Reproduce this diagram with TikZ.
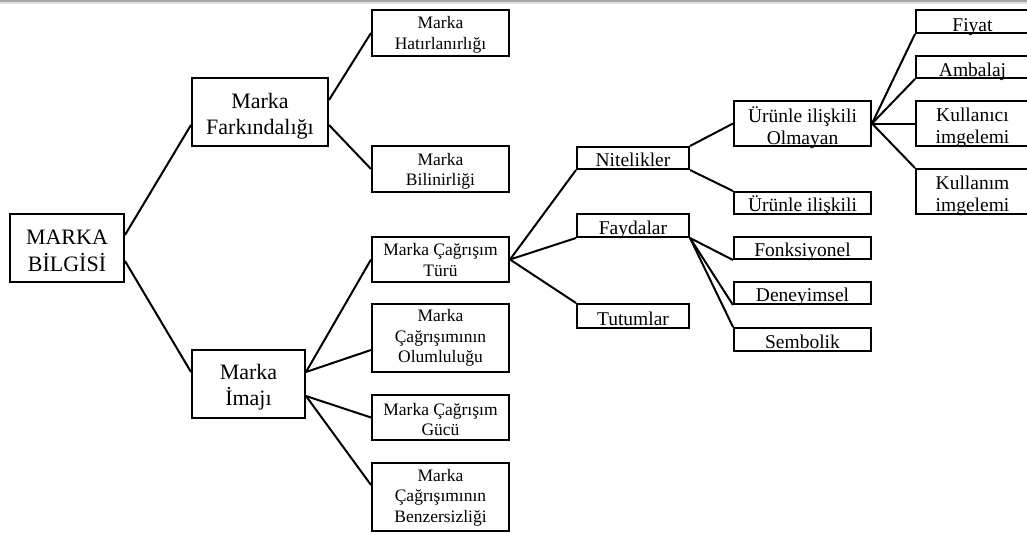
\documentclass[tikz,border=0pt]{standalone}
\usepackage{fontspec}
\setmainfont{Liberation Serif}
\begin{document}
\begin{tikzpicture}[x=1pt,y=-1pt,
  box/.style 2 args={draw=black, line width=2pt, inner sep=0pt,
    minimum width=#1pt, minimum height=#2pt},
  link/.style={draw=black, line width=2pt},
  txtXL/.style={font=\fontsize{22}{26.5}\selectfont, align=center, inner sep=0pt},
  txtS/.style={font=\fontsize{17.5}{20.5}\selectfont, align=center, inner sep=0pt},
  txtM/.style={font=\fontsize{19.5}{21.5}\selectfont, align=center, inner sep=0pt},
]
\useasboundingbox (0,0) rectangle (1027,533);
\clip (0,0) rectangle (1027,533);
\fill[white] (0,0) rectangle (1027,533);
% thin grey rule along the top edge
\fill[black!12] (0,0) rectangle (1027,3.5);
\fill[black!35] (0,0) rectangle (1027,2);

% ---- boxes ----
\node[box={114}{68}] (bilgi) at (67,248) {};
\node[box={136}{68}] (fark)  at (260,112) {};
\node[box={113}{68}] (imaj)  at (248.5,384) {};

\node[box={137}{46}] (hatir) at (440.5,33) {};
\node[box={137}{46}] (bilin) at (440.5,169) {};
\node[box={137}{45}] (turu)  at (440.5,259.5) {};
\node[box={137}{68}] (olum)  at (440.5,338) {};
\node[box={137}{45}] (gucu)  at (440.5,417.5) {};
\node[box={137}{68}] (benz)  at (440.5,497) {};

\node[box={112}{22}] (nit)   at (633,158) {};
\node[box={112}{23}] (fayda) at (633,225.5) {};
\node[box={112}{24}] (tutum) at (633,316) {};

\node[box={137}{45}] (olmayan) at (802.5,123.5) {};
\node[box={137}{22}] (urunle)  at (802.5,203) {};
\node[box={137}{22}] (fonk)    at (802.5,248) {};
\node[box={137}{22}] (deney)   at (802.5,293) {};
\node[box={137}{23}] (semb)    at (802.5,339.5) {};

\node[box={113}{23}] (fiyat)     at (972.5,21.5) {};
\node[box={113}{22}] (ambalaj)   at (972.5,67) {};
\node[box={113}{45}] (kullanici) at (972.5,123.5) {};
\node[box={113}{45}] (kullanim)  at (972.5,191.5) {};

% ---- texts ----
\node[txtXL] (bilgi-t) at ([yshift=-2.7pt]bilgi.center) {MARKA\\BİLGİSİ};
\node[txtXL] (fark-t)  at ([yshift=-4pt]fark.center) {Marka\\Farkındalığı};
\node[txtXL] (imaj-t)  at ([yshift=-3pt]imaj.center) {Marka\\İmajı};

\node[txtS] (hatir-t) at ([yshift=-1.8pt]hatir.center) {Marka\\Hatırlanırlığı};
\node[txtS] (bilin-t) at ([yshift=-2.5pt]bilin.center) {Marka\\Bilinirliği};
\node[txtS] (turu-t)  at ([yshift=-0.5pt]turu.center) {Marka Çağrışım\\Türü};
\node[txtS] (olum-t)  at (olum.center) {Marka\\Çağrışımının\\Olumluluğu};
\node[txtS] (gucu-t)  at ([yshift=-1.8pt]gucu.center) {Marka Çağrışım\\Gücü};
\node[txtS] (benz-t)  at ([yshift=-0.4pt]benz.center) {Marka\\Çağrışımının\\Benzersizliği};

\node[txtM, anchor=base] (nit-t)   at ([yshift=3.3pt]nit.south) {Nitelikler};
\node[txtM, anchor=base] (fayda-t) at ([yshift=3.3pt]fayda.south) {Faydalar};
\node[txtM, anchor=base] (tutum-t) at ([yshift=3.5pt]tutum.south) {Tutumlar};

\node[txtM] (olmayan-t) at ([yshift=-4pt]olmayan.center) {Ürünle ilişkili\\Olmayan};
\node[txtM, anchor=base] (urunle-t) at ([yshift=3.3pt]urunle.south) {Ürünle ilişkili};
\node[txtM, anchor=base] (fonk-t)   at ([yshift=3.3pt]fonk.south) {Fonksiyonel};
\node[txtM, anchor=base] (deney-t)  at ([yshift=3.3pt]deney.south) {Deneyimsel};
\node[txtM, anchor=base] (semb-t)   at ([yshift=3.8pt]semb.south) {Sembolik};

\node[txtM, anchor=base] (fiyat-t)   at ([yshift=3pt]fiyat.south) {Fiyat};
\node[txtM, anchor=base] (ambalaj-t) at ([yshift=3pt]ambalaj.south) {Ambalaj};
\node[txtM] (kullanici-t) at ([yshift=-4.5pt]kullanici.center) {Kullanıcı\\imgelemi};
\node[txtM] (kullanim-t)  at ([yshift=-4.3pt]kullanim.center) {Kullanım\\imgelemi};

% ---- connectors ----
\draw[link] ([yshift=13pt]bilgi.east) -- ([yshift=-13pt]fark.west);
\draw[link] ([yshift=-13pt]bilgi.east) -- ([yshift=12pt]imaj.west);

\draw[link] ([yshift=12pt]fark.east) -- (hatir.west);
\draw[link] ([yshift=-13pt]fark.east) -- (bilin.west);

\draw[link] ([yshift=12pt]imaj.east) -- (turu.west);
\draw[link] ([yshift=12pt]imaj.east) -- ([yshift=-12pt]olum.west);
\draw[link] ([yshift=-12pt]imaj.east) -- (gucu.west);
\draw[link] ([yshift=-12pt]imaj.east) -- ([yshift=12pt]benz.west);

\draw[link] (turu.east) -- (nit.south west);
\draw[link] (turu.east) -- (fayda.south west);
\draw[link] (turu.east) -- (tutum.north west);

\draw[link] (nit.north east) -- (olmayan.west);
\draw[link] (nit.south east) -- (urunle.north west);

\draw[link] (fayda.south east) -- (fonk.south west);
\draw[link] (fayda.south east) -- (deney.south west);
\draw[link] (fayda.south east) -- (semb.north west);

\draw[link] (olmayan.east) -- (fiyat.south west);
\draw[link] (olmayan.east) -- (ambalaj.south west);
\draw[link] (olmayan.east) -- (kullanici.west);
\draw[link] (olmayan.east) -- (kullanim.north west);
\end{tikzpicture}
\end{document}
